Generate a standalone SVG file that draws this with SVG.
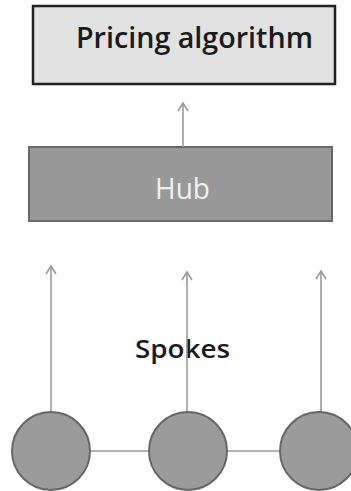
<svg xmlns="http://www.w3.org/2000/svg" width="351" height="491" viewBox="0 0 351 491">
<style>
.lbl{font-family:"Open Sans","Liberation Sans",sans-serif;font-weight:600;}
.lbl.reg{font-weight:400;}
.conn{stroke:#9a9a9a;stroke-width:1.6;fill:none;}
.spoke{fill:#9b9b9b;stroke:#666;stroke-width:2;}
</style>
<defs>
<marker id="arr" markerUnits="userSpaceOnUse" markerWidth="14" markerHeight="14" viewBox="-10 -7 14 14" refX="0" refY="0" orient="auto" overflow="visible">
<path d="M-8,-5 L0,0 L-8,5" fill="none" stroke="#9a9a9a" stroke-width="1.6"/>
</marker>
</defs>
<rect width="351" height="491" fill="#fff"/>
<g id="pricing">
<rect x="33" y="6" width="302" height="78" fill="#e2e2e2" stroke="#222" stroke-width="2.5"/>
<text class="lbl" x="76" y="48" font-size="28" fill="#1a1a1a" textLength="237" lengthAdjust="spacingAndGlyphs">Pricing algorithm</text>
</g>
<g id="hub">
<rect x="29" y="147" width="303" height="74" fill="#999" stroke="#666" stroke-width="2"/>
<text class="lbl reg" x="155" y="199" font-size="29" fill="#f0f0f0" textLength="55" lengthAdjust="spacingAndGlyphs">Hub</text>
</g>
<g id="spokes-label">
<text class="lbl" x="135" y="358" font-size="25" fill="#1a1a1a" textLength="95" lengthAdjust="spacingAndGlyphs">Spokes</text>
</g>
<g id="connectors">
<line class="conn" x1="183" y1="147" x2="183" y2="103" marker-end="url(#arr)"/>
<line class="conn" x1="51" y1="412" x2="51" y2="266" marker-end="url(#arr)"/>
<line class="conn" x1="187" y1="412" x2="187" y2="272" marker-end="url(#arr)"/>
<line class="conn" x1="321" y1="412" x2="321" y2="271" marker-end="url(#arr)"/>
<line class="conn" x1="91" y1="451" x2="148" y2="451"/>
<line class="conn" x1="227" y1="451" x2="280" y2="451"/>
</g>
<g id="spoke1"><circle class="spoke" cx="51" cy="451" r="39"/></g>
<g id="spoke2"><circle class="spoke" cx="188" cy="451" r="39"/></g>
<g id="spoke3"><circle class="spoke" cx="319" cy="451" r="39"/></g>
</svg>
